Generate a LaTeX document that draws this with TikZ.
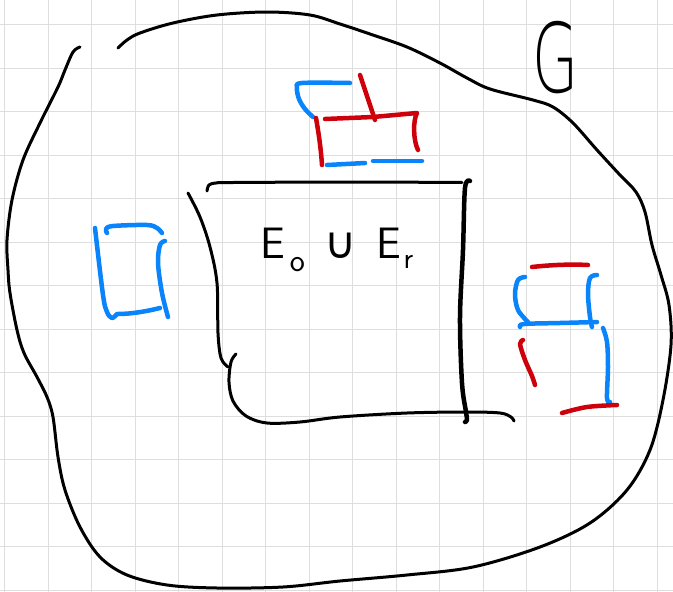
\documentclass[tikz,border=0pt]{standalone}
\usepackage{fontspec}
\newfontfamily\symbolfont{DejaVu Sans}
\newfontfamily\thinfont{DejaVu Sans ExtraLight}
\definecolor{penblue}{RGB}{10,132,250}
\definecolor{penred}{RGB}{205,0,12}
\definecolor{gridgrey}{RGB}{222,222,222}
\begin{document}
\begin{tikzpicture}[x=1pt,y=-1pt,
  gridline/.style={draw=gridgrey,line width=1pt},
  ink/.style={draw=black,line width=3pt,line cap=round,line join=round},
  inkheavy/.style={draw=black,line width=4.5pt,line cap=round,line join=round},
  bluestroke/.style={draw=penblue,line width=4.5pt,line cap=round,line join=round},
  redstroke/.style={draw=penred,line width=4.5pt,line cap=round,line join=round},
  smoothline/.style={smooth,tension=0.55}]
\fill[white] (0,0) rectangle (673,592);
\useasboundingbox (0,0) rectangle (673,592);
% grid
\foreach \i in {0,...,15} \draw[gridline] ({4.7+43.5*\i},0) -- ++(0,592);
\foreach \j in {0,...,13} \draw[gridline] (0,{24.5+43.5*\j}) -- ++(673,0);
% outer region G
\draw[ink] plot[smoothline] coordinates {(80,47) (73,52) (65,70) (58,87) (40,123) (23,160) (12,200) (7,240) (8,270) (10,293) (17,330) (24,353) (37,377) (47,397) (53,417) (58,457) (65,490) (80,527) (100,557) (127,575) (167,585) (217,588) (283,587) (340,581) (407,575) (473,567) (540,547) (590,523) (627,490) (650,450) (663,400) (671,345) (669,305) (661,275) (652,245) (645,212) (636,192) (620,175) (597,150) (573,123) (553,107) (533,100) (490,89) (467,78) (440,63) (407,47) (370,34) (340,24) (310,15) (267,12) (217,15) (173,23) (140,33) (127,40) (118,48)};
\node (G) at (556,58) {\scalebox{0.62}[1]{\fontsize{96}{96}\selectfont\thinfont G}};
% inner box E0 u Er
\draw[ink] plot[smoothline] coordinates {(207,191) (209,185) (216,183) (233,182.5) (350,182) (462,182.5)};
\draw[ink] plot[smoothline] coordinates {(188,193) (200,217) (210,247) (217,283) (218,333) (221,358) (228,367)};
\draw[ink] plot[smoothline] coordinates {(236,354) (231,362) (229,382) (233,401) (246,416) (267,423) (300,422) (340,417) (407,413) (467,412) (500,413) (511,417) (514,421)};
\draw[inkheavy] plot[smoothline] coordinates {(470,181) (465,188) (463,250) (460,317) (462,383) (466,412) (467,420) (465,422)};
\node (label) at (337,250) {\fontsize{44}{44}\selectfont\sffamily E\hspace{0.1em}\raisebox{-0.3em}{\fontsize{32}{32}\selectfont o}\hspace{0.45em}{\symbolfont ∪}\hspace{0.45em}E\hspace{0.05em}\raisebox{-0.22em}{\fontsize{30}{30}\selectfont r}};
% top group
\draw[bluestroke] plot[smoothline] coordinates {(350,83) (302,83) (297,88) (299,99) (305,109) (313,117)};
\draw[redstroke] (360,75) -- (375,120);
\draw[redstroke] (325,119) -- (373,117) -- (417,113) .. controls (413,120) and (413,140) .. (418,150);
\draw[redstroke] (316,118) .. controls (319,135) and (321,150) .. (322,165);
\draw[bluestroke] (327,165) -- (365,163);
\draw[bluestroke] (373,161) -- (422,161);
% left box
\draw[bluestroke] plot[smoothline] coordinates {(95,228) (103,295) (107,312) (112,318) (117,314)};
\draw[bluestroke] (118,314) .. controls (132,314) and (148,311) .. (160,308);
\draw[bluestroke] plot[smoothline] coordinates {(107,233) (106,229) (113,226) (147,225) (157,228) (162,233)};
\draw[bluestroke] plot[smoothline] coordinates {(165,241) (160,245) (158,263) (162,293) (168,317)};
% right group
\draw[redstroke] (532,267) .. controls (550,265) and (570,264) .. (588,265);
\draw[bluestroke] plot[smoothline] coordinates {(525,277) (518,280) (515,294) (518,310) (528,322)};
\draw[bluestroke] plot[smoothline] coordinates {(520,327) (524,324) (560,323) (597,322)};
\draw[bluestroke] plot[smoothline] coordinates {(597,275) (590,278) (588,294) (590,317) (592,327)};
\draw[bluestroke] plot[smoothline] coordinates {(603,328) (607,342) (608,367) (607,398) (610,402)};
\draw[redstroke] plot[smoothline] coordinates {(523,340) (520,344) (525,360) (532,376) (535,385)};
\draw[redstroke] plot[smoothline] coordinates {(562,413) (587,407) (617,405)};
\end{tikzpicture}
\end{document}
